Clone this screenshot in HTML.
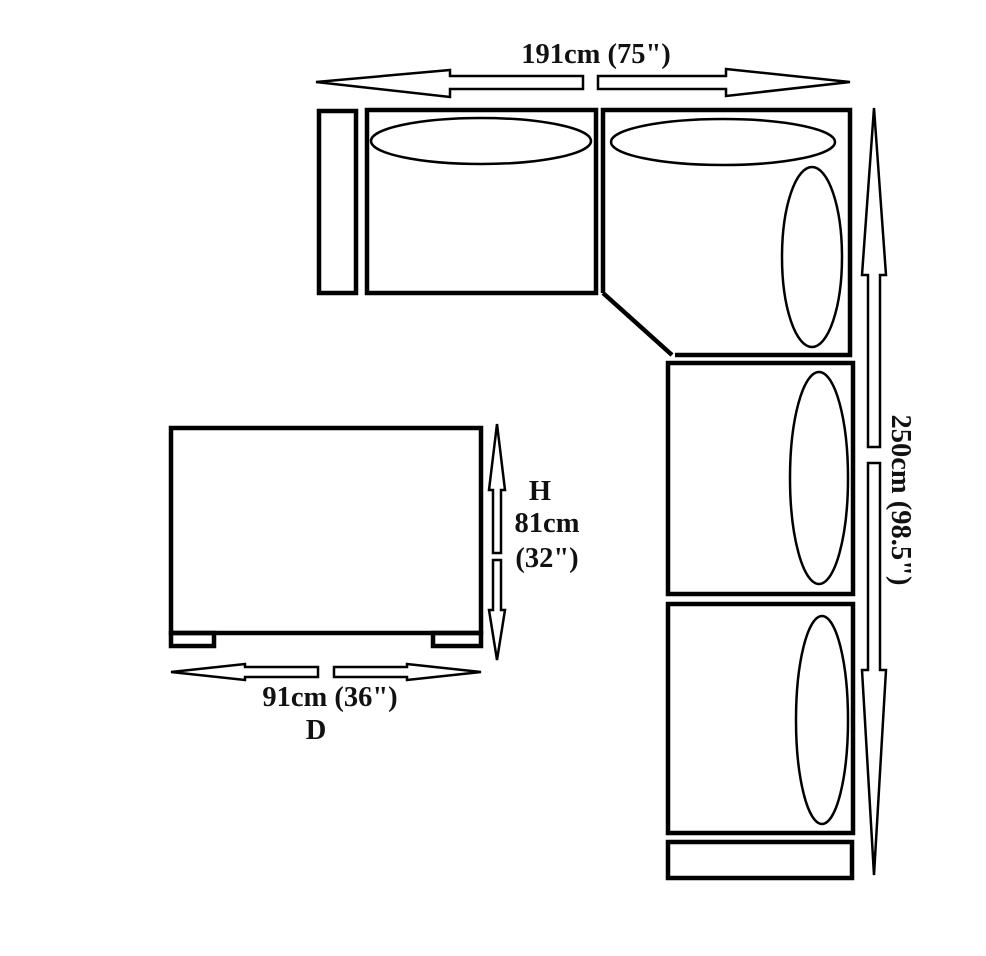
<!DOCTYPE html>
<html><head><style>body{margin:0;background:#fff}svg{display:block}text{font-family:"Liberation Serif",serif;font-weight:bold;font-size:28.5px;fill:#111}</style></head>
<body>
<svg width="986" height="956" viewBox="0 0 986 956">
<g fill="none" stroke="#000" stroke-width="3">
<polygon points="316,82 450,70 450,76 583,76 583,89 450,89 450,97" stroke-width="2.5"/>
<polygon points="850,82 726,69 726,76 598,76 598,89 726,89 726,96" stroke-width="2.5"/>
<polygon points="874,108 886,275 880,275 880,447 868,447 868,275 862,275" stroke-width="2.5"/>
<polygon points="874,875 886,670 880,670 880,463 868,463 868,670 862,670" stroke-width="2.5"/>
</g>
<g fill="none" stroke="#000" stroke-width="4.5">
<rect x="319" y="111" width="37" height="182"/>
<rect x="367" y="110" width="229" height="183"/>
<polyline points="603,293 603,110 850,110 850,355 675,355"/>
<line x1="603" y1="293" x2="672" y2="355"/>
<rect x="668" y="363" width="185" height="231"/>
<rect x="668" y="604" width="185" height="229"/>
<rect x="668" y="842" width="184" height="36"/>
<rect x="171" y="428" width="310" height="205"/>
<rect x="171" y="633" width="43" height="13"/>
<rect x="433" y="633" width="48" height="13"/>
</g>
<g fill="none" stroke="#000" stroke-width="2.5">
<ellipse cx="481" cy="141" rx="110" ry="23"/>
<ellipse cx="723" cy="142" rx="112" ry="23"/>
<ellipse cx="812" cy="257" rx="30" ry="90"/>
<ellipse cx="819" cy="478" rx="29" ry="106"/>
<ellipse cx="822" cy="720" rx="26" ry="104"/>
<polygon points="497,424 505,490 501,490 501,553 493,553 493,490 489,490"/>
<polygon points="497,660 505,610 501,610 501,560 493,560 493,610 489,610"/>
<polygon points="171,672 245,664 245,667 318,667 318,677 245,677 245,680"/>
<polygon points="481,672 407,664 407,667 334,667 334,677 407,677 407,680"/>
</g>
<text x="596" y="63" text-anchor="middle">191cm (75")</text>
<text x="540" y="500" text-anchor="middle">H</text>
<text x="547" y="532" text-anchor="middle">81cm</text>
<text x="547" y="567" text-anchor="middle">(32")</text>
<text x="330" y="706" text-anchor="middle">91cm (36")</text>
<text x="316" y="739" text-anchor="middle">D</text>
<text transform="translate(892,500) rotate(90)" text-anchor="middle">250cm (98.5")</text>
</svg>
</body></html>
